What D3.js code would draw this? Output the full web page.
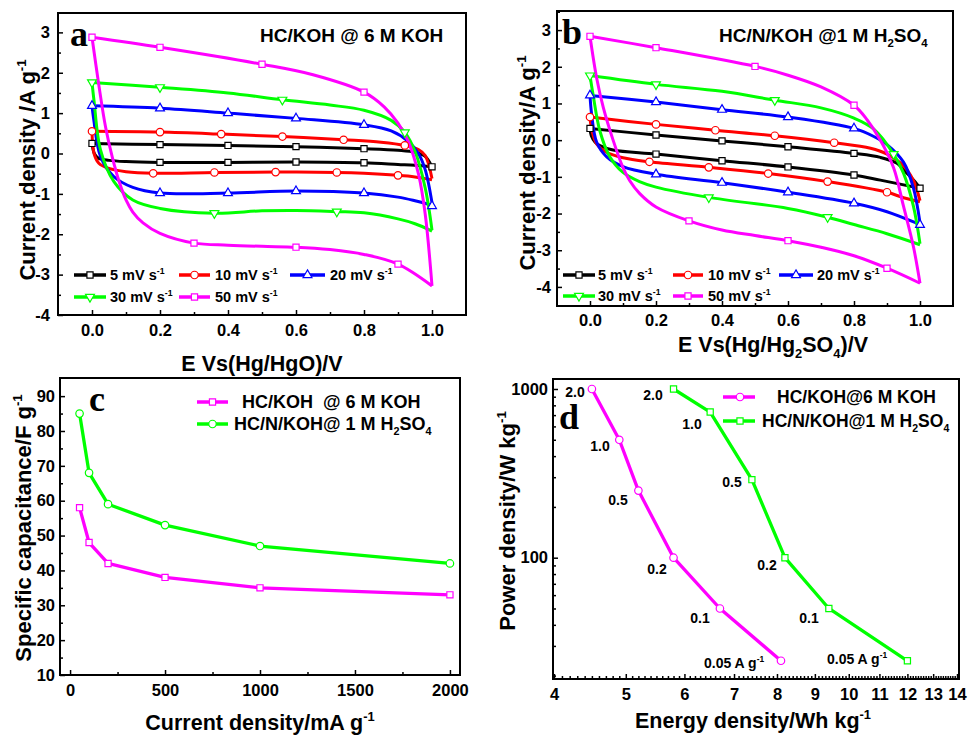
<!DOCTYPE html>
<html><head><meta charset="utf-8">
<script src="https://cdn.jsdelivr.net/npm/d3@7"></script>
<style>
body{margin:0;background:#fff}
svg{display:block}
text{font-family:"Liberation Sans",Arial,sans-serif;font-weight:bold;fill:#000}
</style>
</head><body>
<svg id="chart" width="968" height="736"></svg>
<script>
// ---------------- DATA ----------------
// CV panels (a, b)
const cvLabels = ["5 mV s", "10 mV s", "20 mV s", "30 mV s", "50 mV s"];
const cvColors = ["#000000", "#ff0000", "#0000ff", "#00ff00", "#ff00ff"];
const cvShapes = ["square", "circle", "triUp", "triDown", "square"];
const cvXTicks = [0, 0.2, 0.4, 0.6, 0.8, 1.0];
const cvYTicks = [-4, -3, -2, -1, 0, 1, 2, 3];

// panel a : HC/KOH @ 6 M KOH
const a5Up = [[0,0.25],[0.2,0.22],[0.4,0.2],[0.6,0.17],[0.8,0.12],[0.9,0.08],[0.95,0.03],[0.98,-0.07],[1.0,-0.33]];
const a5Down = [[1.0,-0.33],[0.95,-0.29],[0.9,-0.27],[0.8,-0.23],[0.6,-0.21],[0.4,-0.22],[0.2,-0.22],[0.1,-0.2],[0.05,-0.17],[0.02,-0.12],[0.008,-0.02],[0,0.25]];
const a5Mk = [[0,0.25],[0.2,0.22],[0.4,0.2],[0.6,0.17],[0.8,0.12],[1.0,-0.33],[0.8,-0.23],[0.6,-0.21],[0.4,-0.22],[0.2,-0.22]];

const a10Up = [[0,0.55],[0.2,0.53],[0.38,0.48],[0.56,0.42],[0.74,0.34],[0.85,0.28],[0.92,0.2],[0.96,0.1],[0.98,-0.05],[1.0,-0.62]];
const a10Down = [[1.0,-0.65],[0.95,-0.58],[0.9,-0.54],[0.8,-0.49],[0.72,-0.47],[0.54,-0.46],[0.36,-0.47],[0.18,-0.49],[0.1,-0.45],[0.05,-0.37],[0.02,-0.24],[0.006,0.0],[0,0.55]];
const a10Mk = [[0,0.55],[0.2,0.53],[0.38,0.48],[0.56,0.42],[0.74,0.34],[0.92,0.2],[0.9,-0.54],[0.72,-0.47],[0.54,-0.46],[0.36,-0.47],[0.18,-0.49]];

const a20Up = [[0,1.18],[0.2,1.12],[0.4,1.0],[0.6,0.87],[0.8,0.71],[0.88,0.56],[0.93,0.3],[0.96,0.0],[0.98,-0.4],[1.0,-1.22]];
const a20Down = [[1.0,-1.28],[0.95,-1.17],[0.9,-1.08],[0.8,-0.98],[0.6,-0.93],[0.4,-0.98],[0.2,-0.98],[0.12,-0.84],[0.064,-0.57],[0.025,-0.07],[0.005,0.85],[0,1.18]];
const a20Mk = [[0,1.18],[0.2,1.12],[0.4,1.0],[0.6,0.87],[0.8,0.71],[1.0,-1.3],[0.8,-0.98],[0.6,-0.93],[0.4,-0.98],[0.2,-0.98]];

const a30Up = [[0,1.76],[0.2,1.64],[0.4,1.5],[0.56,1.33],[0.7,1.2],[0.8,1.07],[0.88,0.82],[0.92,0.52],[0.95,0.05],[0.98,-0.85],[1.0,-1.9]];
const a30Down = [[1.0,-1.92],[0.95,-1.74],[0.9,-1.62],[0.8,-1.47],[0.72,-1.44],[0.6,-1.41],[0.5,-1.42],[0.36,-1.48],[0.2,-1.36],[0.12,-1.15],[0.064,-0.69],[0.025,0.09],[0.006,1.3],[0,1.76]];
const a30Mk = [[0,1.76],[0.2,1.64],[0.56,1.33],[0.92,0.52],[0.72,-1.44],[0.36,-1.48]];

const a50Up = [[0,2.88],[0.2,2.63],[0.5,2.21],[0.65,1.95],[0.8,1.52],[0.86,1.15],[0.9,0.75],[0.93,0.3],[0.96,-0.5],[0.98,-1.5],[1.0,-3.28]];
const a50Down = [[1.0,-3.28],[0.9,-2.74],[0.8,-2.5],[0.7,-2.38],[0.6,-2.32],[0.5,-2.3],[0.4,-2.27],[0.3,-2.22],[0.2,-1.98],[0.15,-1.72],[0.12,-1.45],[0.1,-1.15],[0.08,-0.7],[0.06,-0.1],[0.04,0.65],[0.02,1.7],[0,2.88]];
const a50Mk = [[0,2.88],[0.2,2.63],[0.5,2.21],[0.8,1.52],[0.9,-2.74],[0.6,-2.32],[0.3,-2.22]];

// panel b : HC/N/KOH @ 1 M H2SO4
const b5Up = [[0,0.32],[0.2,0.14],[0.4,-0.02],[0.6,-0.18],[0.8,-0.36],[0.88,-0.47],[0.93,-0.63],[0.96,-0.9],[0.985,-1.13],[1.0,-1.31]];
const b5Down = [[1.0,-1.31],[0.88,-1.09],[0.8,-0.95],[0.6,-0.73],[0.4,-0.56],[0.2,-0.38],[0.07,-0.27],[0.03,-0.15],[0.015,-0.05],[0.004,0.12],[0,0.32]];
const b5Mk = [[0,0.32],[0.2,0.14],[0.4,-0.02],[0.6,-0.18],[0.8,-0.36],[1.0,-1.31],[0.8,-0.95],[0.6,-0.73],[0.4,-0.56],[0.2,-0.38]];

const b10Up = [[0,0.63],[0.2,0.43],[0.38,0.27],[0.56,0.12],[0.74,-0.07],[0.85,-0.22],[0.9,-0.38],[0.95,-0.7],[0.98,-1.1],[1.0,-1.65]];
const b10Down = [[1.0,-1.68],[0.95,-1.57],[0.9,-1.42],[0.72,-1.13],[0.54,-0.91],[0.36,-0.74],[0.18,-0.59],[0.1,-0.48],[0.05,-0.33],[0.02,-0.1],[0.005,0.3],[0,0.63]];
const b10Mk = [[0,0.63],[0.2,0.43],[0.38,0.27],[0.56,0.12],[0.74,-0.07],[0.9,-1.42],[0.72,-1.13],[0.54,-0.91],[0.36,-0.74],[0.18,-0.59]];

const b20Up = [[0,1.22],[0.2,1.04],[0.4,0.83],[0.6,0.63],[0.8,0.32],[0.86,0.1],[0.9,-0.12],[0.95,-0.6],[0.98,-1.3],[1.0,-2.25]];
const b20Down = [[1.0,-2.3],[0.95,-2.12],[0.9,-1.95],[0.8,-1.72],[0.6,-1.42],[0.4,-1.16],[0.2,-0.93],[0.1,-0.72],[0.05,-0.45],[0.02,-0.05],[0.005,0.7],[0,1.22]];
const b20Mk = [[0,1.22],[0.2,1.04],[0.4,0.83],[0.6,0.63],[0.8,0.32],[1.0,-2.31],[0.8,-1.72],[0.6,-1.42],[0.4,-1.16],[0.2,-0.93]];

const b30Up = [[0,1.76],[0.2,1.52],[0.4,1.33],[0.56,1.09],[0.7,0.88],[0.8,0.6],[0.86,0.3],[0.92,-0.38],[0.95,-0.9],[0.98,-1.8],[1.0,-2.82]];
const b30Down = [[1.0,-2.85],[0.9,-2.55],[0.8,-2.3],[0.72,-2.1],[0.6,-1.86],[0.36,-1.56],[0.2,-1.28],[0.15,-1.13],[0.1,-0.88],[0.06,-0.45],[0.03,0.25],[0.01,1.2],[0,1.76]];
const b30Mk = [[0,1.76],[0.2,1.52],[0.56,1.09],[0.92,-0.38],[0.72,-2.1],[0.36,-1.56]];

const b50Up = [[0,2.83],[0.2,2.52],[0.5,2.01],[0.6,1.77],[0.7,1.45],[0.8,0.95],[0.84,0.55],[0.88,0.0],[0.92,-0.75],[0.95,-1.8],[0.98,-2.9],[1.0,-3.9]];
const b50Down = [[1.0,-3.9],[0.9,-3.49],[0.8,-3.15],[0.7,-2.92],[0.6,-2.74],[0.5,-2.6],[0.4,-2.45],[0.3,-2.2],[0.2,-1.82],[0.15,-1.45],[0.12,-1.1],[0.1,-0.75],[0.07,0],[0.04,0.9],[0.02,1.7],[0,2.83]];
const b50Mk = [[0,2.83],[0.2,2.52],[0.5,2.01],[0.8,0.95],[0.9,-3.49],[0.6,-2.74],[0.3,-2.2]];

// panel c : specific capacitance vs current density
const cCurrent = [50, 100, 200, 500, 1000, 2000];
const cCapKOH = [58, 48, 42, 38, 35, 33];
const cCapH2SO4 = [85, 68, 59, 53, 47, 42];
const cXTicks = [0, 500, 1000, 1500, 2000];
const cYTicks = [10, 20, 30, 40, 50, 60, 70, 80, 90];

// panel d : Ragone plot
const dRateLabels = ["2.0", "1.0", "0.5", "0.2", "0.1", "0.05 A g"];
const dEnergyKOH = [4.5, 4.9, 5.2, 5.8, 6.7, 8.1];
const dPowerKOH = [1000, 500, 250, 100, 50, 24.5];
const dEnergyH2SO4 = [5.8, 6.5, 7.4, 8.2, 9.4, 12.0];
const dPowerH2SO4 = [1000, 730, 290, 100, 50, 24.5];
const dXTicks = [4, 5, 6, 7, 8, 9, 10, 11, 12, 13, 14];
const dYTicks = [100, 1000];

// ---------------- DRAWING ----------------
const svg = d3.select("#chart");
const TICKFS = 16.5;

function rich(g, x, y, parts, fs, opts = {}) {
  const t = g.append("text").attr("font-size", fs).style("white-space", "pre");
  if (opts.rotate) t.attr("transform", `translate(${x},${y}) rotate(-90)`);
  else t.attr("x", x).attr("y", y);
  if (opts.anchor) t.attr("text-anchor", opts.anchor);
  if (opts.family) t.style("font-family", opts.family);
  let shift = 0;
  parts.forEach(p => {
    const [s, type] = Array.isArray(p) ? p : [p, ""];
    const target = type === "sup" ? -fs * 0.42 : type === "sub" ? fs * 0.28 : 0;
    const ts = t.append("tspan").text(s);
    if (target - shift !== 0) ts.attr("dy", target - shift);
    if (type) ts.attr("font-size", fs * 0.6);
    shift = target;
  });
  return t;
}

function symbolPath(shape) {
  if (shape === "square") return d3.symbol().type(d3.symbolSquare).size(38)();
  if (shape === "circle") return d3.symbol().type(d3.symbolCircle).size(44)();
  return d3.symbol().type(d3.symbolTriangle).size(34)();
}
function drawMarker(g, shape, cx, cy, color) {
  let tr = `translate(${cx},${cy})`;
  if (shape === "triDown") tr += " rotate(180)";
  g.append("path").attr("d", symbolPath(shape)).attr("transform", tr)
    .attr("fill", "#fff").attr("stroke", color).attr("stroke-width", 1.2);
}

function frame(g, x, y, x0, x1, y0, y1) {
  g.append("rect").attr("x", x0).attr("y", y1).attr("width", x1 - x0).attr("height", y0 - y1)
    .attr("fill", "none").attr("stroke", "#000").attr("stroke-width", 2);
}

function axisBottom(g, x, yPos, major, minor, fmt, pad) {
  const ax = g.append("g").attr("transform", `translate(0,${yPos})`)
    .call(d3.axisBottom(x).tickValues(major).tickSize(-5).tickPadding(pad).tickFormat(fmt));
  const mi = g.append("g").attr("transform", `translate(0,${yPos})`)
    .call(d3.axisBottom(x).tickValues(minor).tickSize(-3).tickFormat(""));
  [ax, mi].forEach(a => { a.select(".domain").remove(); a.selectAll("line").attr("stroke-width", 1.5); });
  ax.selectAll("text").attr("font-size", TICKFS).style("font-family", '"Liberation Sans",Arial,sans-serif').style("font-weight", "bold");
}
function axisLeft(g, y, xPos, major, minor, fmt, pad) {
  const ax = g.append("g").attr("transform", `translate(${xPos},0)`)
    .call(d3.axisLeft(y).tickValues(major).tickSize(-5).tickPadding(pad).tickFormat(fmt));
  const mi = g.append("g").attr("transform", `translate(${xPos},0)`)
    .call(d3.axisLeft(y).tickValues(minor).tickSize(-3).tickFormat(""));
  [ax, mi].forEach(a => { a.select(".domain").remove(); a.selectAll("line").attr("stroke-width", 1.5); });
  ax.selectAll("text").attr("font-size", TICKFS).style("font-family", '"Liberation Sans",Arial,sans-serif').style("font-weight", "bold");
}

const plainFmt = d => String(d);

// ----- CV panel generic -----
function cvPanel(box, series, title, xlabelParts, ylabelParts, letter, layout) {
  const g = svg.append("g");
  const x = d3.scaleLinear().domain(box.xd).range([box.x0, box.x1]);
  const y = d3.scaleLinear().domain(box.yd).range([box.y0, box.y1]);
  const line = d3.line().x(d => x(d[0])).y(d => y(d[1])).curve(d3.curveCatmullRom.alpha(0.5));
  series.forEach((s, i) => {
    [s.up, s.down].forEach(br => {
      g.append("path").attr("d", line(br)).attr("fill", "none")
        .attr("stroke", cvColors[i]).attr("stroke-width", 3).attr("stroke-linejoin", "round");
    });
  });
  series.forEach((s, i) => {
    s.mk.forEach(p => drawMarker(g, cvShapes[i], x(p[0]), y(p[1]), cvColors[i]));
  });
  frame(g, x, y, box.x0, box.x1, box.y0, box.y1);
  const minorX = d3.range(-0.1, 1.1001, 0.1).map(v => +v.toFixed(2)).filter(v => !cvXTicks.includes(v) && v > -0.1 && v < 1.1);
  axisBottom(g, x, box.y0, cvXTicks, minorX, d3.format(".1f"), box.xpad);
  const minorY = d3.range(-4, 3.6, 0.5).filter(v => !Number.isInteger(v) && v > box.yd[0] && v < box.yd[1]);
  axisLeft(g, y, box.x0, cvYTicks, minorY, plainFmt, box.ypad);

  // legend
  layout.legend.forEach((L, i) => {
    g.append("line").attr("x1", L[0]).attr("x2", L[1]).attr("y1", L[2]).attr("y2", L[2])
      .attr("stroke", cvColors[i]).attr("stroke-width", 3.5);
    drawMarker(g, cvShapes[i], (L[0] + L[1]) / 2, L[2], cvColors[i]);
    rich(g, L[3], L[2] + 5, [cvLabels[i], ["-1", "sup"]], 14.5);
  });
  rich(g, layout.title[0], layout.title[1], title, 19);
  rich(g, layout.letter[0], layout.letter[1], [letter], 36, { family: '"Liberation Serif","Times New Roman",serif' });
  rich(g, layout.xlabel[0], layout.xlabel[1], xlabelParts, 21.5, { anchor: "middle" });
  rich(g, layout.ylabel[0], layout.ylabel[1], ylabelParts, 22, { anchor: "middle", rotate: true });
}

const seriesA = [
  { up: a5Up, down: a5Down, mk: a5Mk }, { up: a10Up, down: a10Down, mk: a10Mk },
  { up: a20Up, down: a20Down, mk: a20Mk }, { up: a30Up, down: a30Down, mk: a30Mk },
  { up: a50Up, down: a50Down, mk: a50Mk }];
const seriesB = [
  { up: b5Up, down: b5Down, mk: b5Mk }, { up: b10Up, down: b10Down, mk: b10Mk },
  { up: b20Up, down: b20Down, mk: b20Mk }, { up: b30Up, down: b30Down, mk: b30Mk },
  { up: b50Up, down: b50Down, mk: b50Mk }];

cvPanel({ x0: 58, x1: 466, y0: 315, y1: 13, xd: [-0.1, 1.1], yd: [-4, 3.48], xpad: 9, ypad: 8 },
  seriesA, ["HC/KOH @ 6 M KOH"], ["E Vs(Hg/HgO)/V"], ["Current density /A g", ["-1", "sup"]], "a",
  { legend: [[74, 106, 275, 110], [179, 210, 275, 215], [290, 325, 275, 330], [74, 106, 297, 110], [179, 210, 297, 215]],
    title: [260, 42], letter: [70, 46], xlabel: [262, 371], ylabel: [35, 170] });

cvPanel({ x0: 557, x1: 953, y0: 306, y1: 11, xd: [-0.1, 1.1], yd: [-4.52, 3.52], xpad: 8, ypad: 6 },
  seriesB, ["HC/N/KOH @1 M H", ["2", "sub"], "SO", ["4", "sub"]], ["E Vs(Hg/Hg", ["2", "sub"], "SO", ["4", "sub"], ")/V"],
  ["Current density/A g", ["-1", "sup"]], "b",
  { legend: [[563, 595, 275, 598], [673, 703, 275, 708], [779, 813, 275, 817], [563, 595, 296, 598], [673, 703, 296, 708]],
    title: [719, 42], letter: [562, 44], xlabel: [773, 352], ylabel: [535, 163] });

// ----- Panel c -----
(function () {
  const g = svg.append("g");
  const x = d3.scaleLinear().domain([-53, 2053]).range([60, 460]);
  const y = d3.scaleLinear().domain([10, 95.2]).range([675, 378]);
  const line = d3.line().x(d => x(d[0])).y(d => y(d[1]));
  const sKOH = cCurrent.map((c, i) => [c, cCapKOH[i]]);
  const sH = cCurrent.map((c, i) => [c, cCapH2SO4[i]]);
  g.append("path").attr("d", line(sH)).attr("fill", "none").attr("stroke", "#00ff00").attr("stroke-width", 3.3).attr("stroke-linejoin", "round");
  g.append("path").attr("d", line(sKOH)).attr("fill", "none").attr("stroke", "#ff00ff").attr("stroke-width", 3.3).attr("stroke-linejoin", "round");
  sH.forEach(p => drawMarker(g, "circle", x(p[0]), y(p[1]), "#00ff00"));
  sKOH.forEach(p => drawMarker(g, "square", x(p[0]), y(p[1]), "#ff00ff"));
  frame(g, x, y, 60, 460, 675, 378);
  axisBottom(g, x, 675, cXTicks, [250, 750, 1250, 1750], plainFmt, 9);
  axisLeft(g, y, 60, cYTicks, [15, 25, 35, 45, 55, 65, 75, 85], plainFmt, 5);
  // legend
  g.append("line").attr("x1", 197).attr("x2", 228).attr("y1", 402).attr("y2", 402).attr("stroke", "#ff00ff").attr("stroke-width", 3.5);
  drawMarker(g, "square", 212.5, 402, "#ff00ff");
  rich(g, 242, 408, ["HC/KOH  @ 6 M KOH"], 18);
  g.append("line").attr("x1", 197).attr("x2", 228).attr("y1", 424).attr("y2", 424).attr("stroke", "#00ff00").attr("stroke-width", 3.5);
  drawMarker(g, "circle", 212.5, 424, "#00ff00");
  rich(g, 234, 430, ["HC/N/KOH@ 1 M H", ["2", "sub"], "SO", ["4", "sub"]], 18);
  rich(g, 89, 411, ["c"], 36, { family: '"Liberation Serif","Times New Roman",serif' });
  rich(g, 260, 730, ["Current density/mA g", ["-1", "sup"]], 21.5, { anchor: "middle" });
  rich(g, 31, 528, ["Specific capacitance/F g", ["-1", "sup"]], 22, { anchor: "middle", rotate: true });
})();

// ----- Panel d -----
(function () {
  const g = svg.append("g");
  const x = d3.scaleLog().domain([4, 14]).range([554, 957]);
  const y = d3.scaleLog().domain([19.1, 1146]).range([679, 379]);
  const line = d3.line().x(d => x(d[0])).y(d => y(d[1]));
  const sKOH = dEnergyKOH.map((e, i) => [e, dPowerKOH[i]]);
  const sH = dEnergyH2SO4.map((e, i) => [e, dPowerH2SO4[i]]);
  g.append("path").attr("d", line(sKOH)).attr("fill", "none").attr("stroke", "#ff00ff").attr("stroke-width", 3.3).attr("stroke-linejoin", "round");
  g.append("path").attr("d", line(sH)).attr("fill", "none").attr("stroke", "#00ff00").attr("stroke-width", 3.3).attr("stroke-linejoin", "round");
  sKOH.forEach(p => drawMarker(g, "circle", x(p[0]), y(p[1]), "#ff00ff"));
  sH.forEach(p => drawMarker(g, "square", x(p[0]), y(p[1]), "#00ff00"));
  frame(g, x, y, 553, 959, 679, 379);
  const minorX = d3.range(40, 141).map(v => v / 10).filter(v => !Number.isInteger(v));
  axisBottom(g, x, 679, dXTicks, minorX, plainFmt, 9);
  const minorY = [20, 30, 40, 50, 60, 70, 80, 90, 200, 300, 400, 500, 600, 700, 800, 900];
  axisLeft(g, y, 553, dYTicks, minorY, plainFmt, 5);
  // rate annotations
  const posKOH = [[575, 397], [600, 451], [618, 505], [657, 574], [700, 623], [704, 668]];
  const posH = [[653, 400], [692, 429], [732, 487], [767, 570], [809, 623], [827, 664]];
  dRateLabels.forEach((lab, i) => {
    const last = i === dRateLabels.length - 1;
    const parts = last ? [lab, ["-1", "sup"]] : [lab];
    rich(g, posKOH[i][0], posKOH[i][1], parts, 14, { anchor: last ? "start" : "middle" });
    rich(g, posH[i][0], posH[i][1], parts, 14, { anchor: last ? "start" : "middle" });
  });
  // legend
  g.append("line").attr("x1", 723).attr("x2", 755).attr("y1", 397).attr("y2", 397).attr("stroke", "#ff00ff").attr("stroke-width", 3.5);
  drawMarker(g, "circle", 740, 397, "#ff00ff");
  rich(g, 777, 403, ["HC/KOH@6 M KOH"], 17.5);
  g.append("line").attr("x1", 723).attr("x2", 755).attr("y1", 421).attr("y2", 421).attr("stroke", "#00ff00").attr("stroke-width", 3.5);
  drawMarker(g, "square", 740, 421, "#00ff00");
  rich(g, 762, 427, ["HC/N/KOH@1 M H", ["2", "sub"], "SO", ["4", "sub"]], 17.5);
  rich(g, 559, 429, ["d"], 36, { family: '"Liberation Serif","Times New Roman",serif' });
  rich(g, 753, 728, ["Energy density/Wh kg", ["-1", "sup"]], 21.5, { anchor: "middle" });
  rich(g, 515, 521, ["Power density/W kg", ["-1", "sup"]], 22, { anchor: "middle", rotate: true });
})();
</script>
</body></html>
